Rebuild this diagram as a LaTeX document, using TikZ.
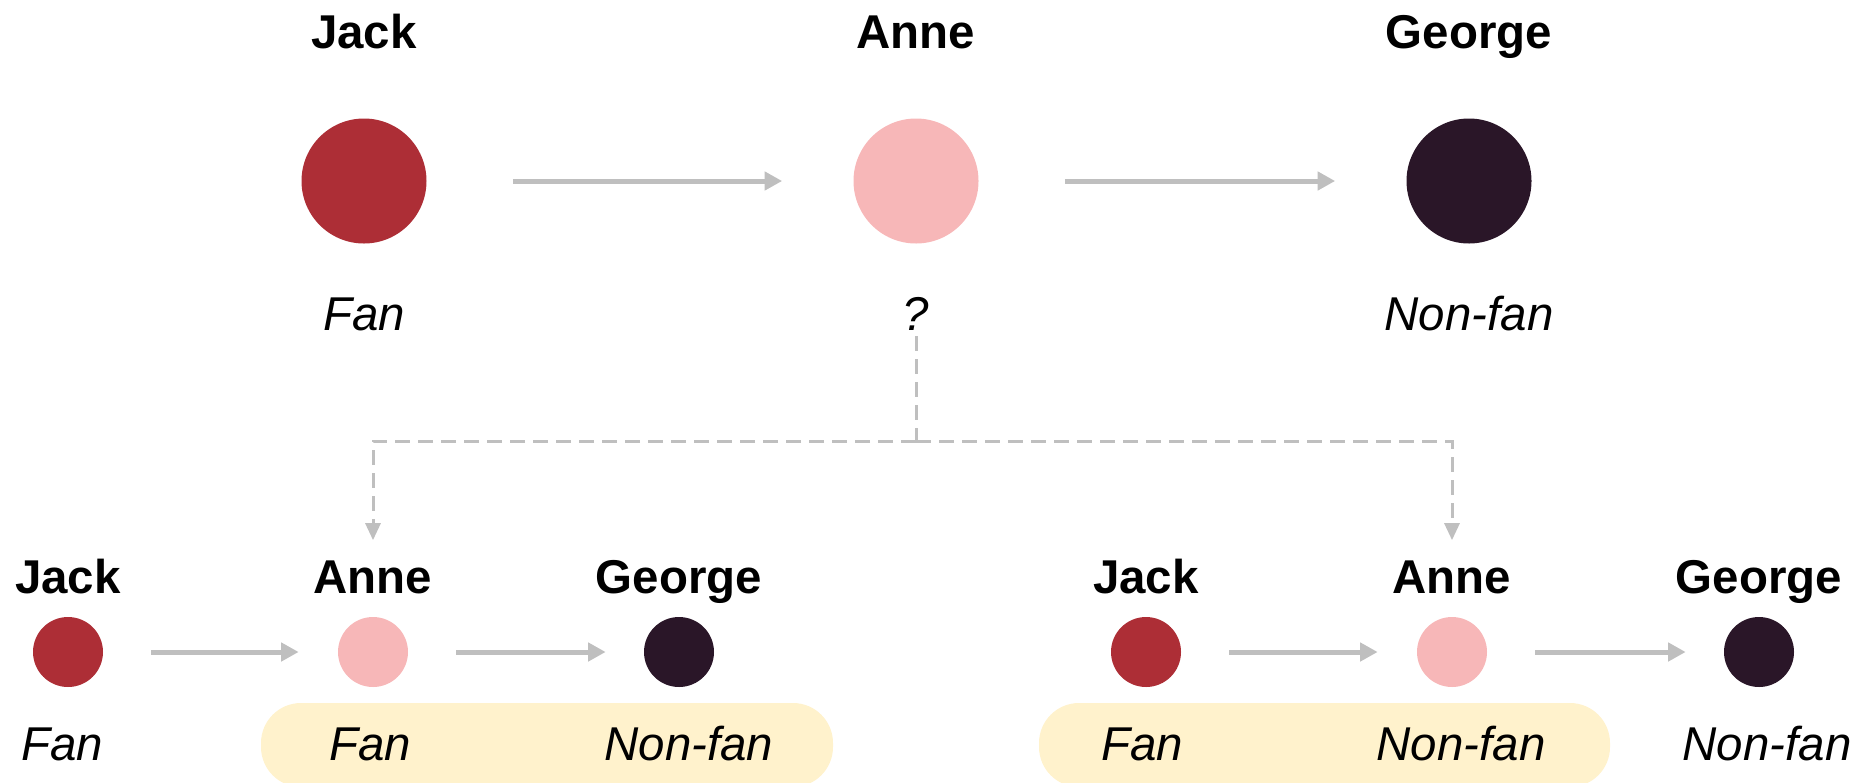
\documentclass[tikz,border=0pt]{standalone}
\usepackage{fontspec}
\setmainfont{Liberation Sans}
\usepackage{tikz}
\usetikzlibrary{arrows.meta}
\definecolor{FanRed}{HTML}{AD2E36}
\definecolor{UnknownPink}{HTML}{F7B7B8}
\definecolor{NonfanDark}{HTML}{2A1628}
\definecolor{ArrowGray}{HTML}{BFBFBF}
\definecolor{SoftYellow}{HTML}{FFF2CC}

\begin{document}
\begin{tikzpicture}[
  personlbl/.style={font=\fontsize{27}{32}\selectfont\bfseries,anchor=base},
  statuslbl/.style={font=\fontsize{27}{32}\selectfont\itshape,anchor=base},
  bigdot/.style={circle,minimum size=2.5cm,inner sep=0pt},
  smalldot/.style={circle,minimum size=1.4cm,inner sep=0pt},
  arr/.style={-{Triangle[length=0.35cm,width=0.36cm]},draw=ArrowGray,line width=0.1cm},
  dashline/.style={draw=ArrowGray,line width=0.06cm,dash pattern=on 0.3cm off 0.16cm},
  dasharr/.style={dashline,-{Triangle[length=0.34cm,width=0.3cm]}},
  hilite/.style={fill=SoftYellow,rounded corners=0.8cm}
]
\useasboundingbox (0,0) rectangle (37.18,-15.64);
\clip (0,0) rectangle (37.18,-15.64);

% top row
\node[personlbl] (tjl) at (7.28,-0.96) {Jack};
\node[personlbl] (tal) at (18.32,-0.96) {Anne};
\node[personlbl] (tgl) at (29.38,-0.96) {George};
\node[bigdot,fill=FanRed] (tj) at (7.28,-3.62) {};
\node[bigdot,fill=UnknownPink] (ta) at (18.32,-3.62) {};
\node[bigdot,fill=NonfanDark] (tg) at (29.38,-3.62) {};
\node[statuslbl] (tjs) at (7.28,-6.6) {Fan};
\node[statuslbl] (tas) at (18.32,-6.6) {?};
\node[statuslbl] (tgs) at (29.38,-6.6) {Non-fan};

\draw[arr,shorten <=1.72cm,shorten >=1.42cm] (tj) -- (ta);
\draw[arr,shorten <=1.72cm,shorten >=1.42cm] (ta) -- (tg);

% highlight bands
\fill[hilite] (5.22,-14.06) rectangle (16.66,-15.74);
\fill[hilite] (20.78,-14.06) rectangle (32.2,-15.74);

% bottom left
\node[personlbl] (ljl) at (1.36,-11.86) {Jack};
\node[personlbl] (lal) at (7.46,-11.86) {Anne};
\node[personlbl] (lgl) at (13.58,-11.86) {George};
\node[smalldot,fill=FanRed] (lj) at (1.36,-13.04) {};
\node[smalldot,fill=UnknownPink] (la) at (7.46,-13.04) {};
\node[smalldot,fill=NonfanDark] (lg) at (13.58,-13.04) {};
\node[statuslbl] (ljs) at (1.24,-15.2) {Fan};
\node[statuslbl] (las) at (7.40,-15.2) {Fan};
\node[statuslbl] (lgs) at (13.78,-15.2) {Non-fan};

\draw[arr,shorten <=0.96cm,shorten >=0.78cm] (lj) -- (la);
\draw[arr,shorten <=0.96cm,shorten >=0.76cm] (la) -- (lg);

% bottom right
\node[personlbl] (rjl) at (22.92,-11.86) {Jack};
\node[personlbl] (ral) at (29.04,-11.86) {Anne};
\node[personlbl] (rgl) at (35.18,-11.86) {George};
\node[smalldot,fill=FanRed] (rj) at (22.92,-13.04) {};
\node[smalldot,fill=UnknownPink] (ra) at (29.04,-13.04) {};
\node[smalldot,fill=NonfanDark] (rg) at (35.18,-13.04) {};
\node[statuslbl] (rjs) at (22.84,-15.2) {Fan};
\node[statuslbl] (ras) at (29.22,-15.2) {Non-fan};
\node[statuslbl] (rgs) at (35.34,-15.2) {Non-fan};

\draw[arr,shorten <=0.96cm,shorten >=0.78cm] (rj) -- (ra);
\draw[arr,shorten <=0.96cm,shorten >=0.76cm] (ra) -- (rg);

% the two possible cases
\coordinate (split) at (18.32,-8.82);
\draw[dashline] (tas) -- (split);
\draw[dasharr,shorten >=0.28cm] (split) -| (lal);
\draw[dasharr,shorten >=0.28cm] (split) -| (ral);
\end{tikzpicture}
\end{document}
